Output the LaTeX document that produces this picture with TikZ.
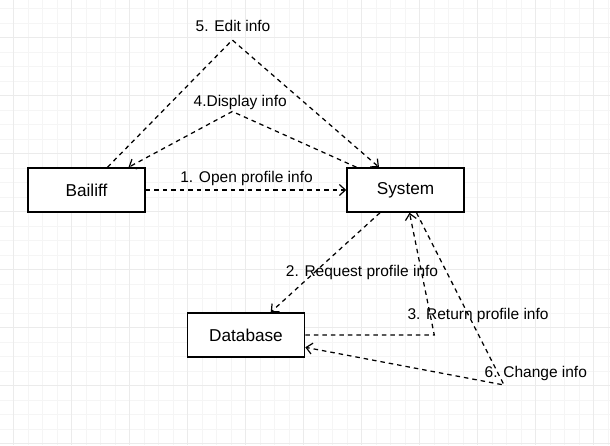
\documentclass[tikz,border=0pt]{standalone}
\usepackage{fontspec}
\setmainfont{Liberation Sans}
\usetikzlibrary{arrows.meta}
\begin{document}
\begin{tikzpicture}[x=1pt,y=-1pt,
  minorgrid/.style={draw=gray!8, line width=0.8pt},
  majorgrid/.style={draw=gray!16, line width=0.9pt},
  box/.style={draw=black, fill=white, line width=1.5pt, minimum width=117pt, minimum height=44pt, inner sep=0pt, font=\fontsize{17.2}{20}\selectfont},
  msg/.style={draw=black, line width=1.25pt, dash pattern=on 4.5pt off 4pt},
  arr/.style={-{Straight Barb[length=6pt,width=11pt,line width=1.2pt]}},
  lbl/.style={font=\fontsize{15.5}{18}\selectfont, inner sep=0pt, anchor=base}]
\fill[white] (0,0) rectangle (610,445);
\useasboundingbox (0,0) rectangle (610,445);
% grid
\foreach \x in {-1,13.5,...,611} {\draw[minorgrid] (\x,0) -- (\x,445);}
\foreach \y in {8.5,23,...,446} {\draw[minorgrid] (0,\y) -- (610,\y);}
\foreach \x in {13.5,71.5,...,611} {\draw[majorgrid] (\x,0) -- (\x,445);}
\foreach \y in {37.5,95.5,...,446} {\draw[majorgrid] (0,\y) -- (610,\y);}
% nodes
\node[box] (bailiff) at (86.5,190) {Bailiff};
\node[box] (system) at (405.5,190) {System};
\node[box] (db) at (246,335) {Database};
% bend points
\coordinate (editapex) at (232.3,40);
\coordinate (dispapex) at (232.3,111.5);
\coordinate (retcorner) at (434.3,335);
\coordinate (chgcorner) at (504,385);
% connectors
\draw[msg,arr] (bailiff.east) -- (system.west);
\draw[msg,arr] ([xshift=-25.5pt]system.south) -- ([xshift=24.7pt]db.north);
\draw[msg,arr] (db.east) -- (retcorner) -- ([xshift=4pt]system.south);
\draw[msg,arr] ([xshift=-49pt]system.north) -- (dispapex) -- ([xshift=42pt]bailiff.north);
\draw[msg,arr] ([xshift=21pt]bailiff.north) -- (editapex) -- ([xshift=-26.5pt]system.north);
\draw[msg,arr] ([xshift=11pt]system.south) -- (chgcorner) -- ([yshift=-12.3pt]db.east);
% labels
\node[lbl] (l5) at (233,31.7) {5. Edit info};
\node[lbl] (l4) at (240.2,106) {4.Display info};
\node[lbl] (l1) at (246.5,182.7) {1. Open profile info};
\node[lbl] (l2) at (362,276.7) {2. Request profile info};
\node[lbl] (l3) at (478,319.3) {3. Return profile info};
\node[lbl] (l6) at (535.8,377.3) {6. Change info};
\end{tikzpicture}
\end{document}
